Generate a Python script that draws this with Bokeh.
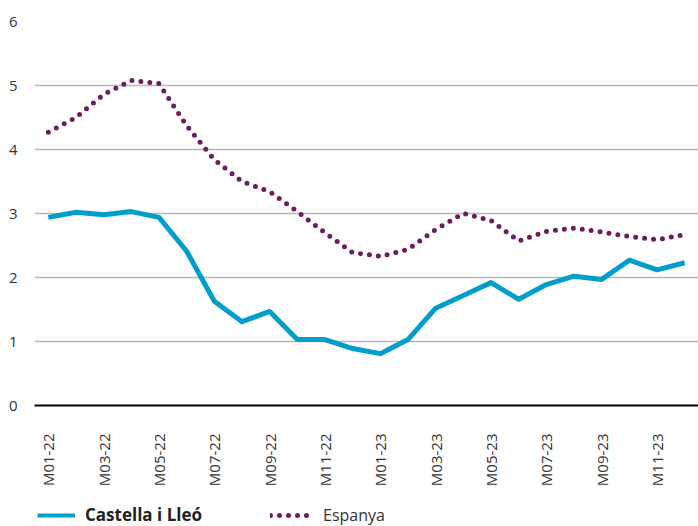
from bokeh.plotting import figure
from bokeh.layouts import column
from bokeh.models import Range1d, FixedTicker, Legend, LegendItem
from bokeh.embed import file_html
from bokeh.resources import INLINE

months = ["M01-22", "M02-22", "M03-22", "M04-22", "M05-22", "M06-22", "M07-22", "M08-22",
          "M09-22", "M10-22", "M11-22", "M12-22", "M01-23", "M02-23", "M03-23", "M04-23",
          "M05-23", "M06-23", "M07-23", "M08-23", "M09-23", "M10-23", "M11-23", "M12-23"]
castella = [2.94, 3.02, 2.98, 3.03, 2.94, 2.41, 1.63, 1.31, 1.47, 1.03, 1.03, 0.89,
            0.81, 1.03, 1.52, 1.72, 1.92, 1.66, 1.89, 2.02, 1.97, 2.27, 2.12, 2.23]
espanya = [4.27, 4.50, 4.86, 5.08, 5.03, 4.37, 3.84, 3.50, 3.34, 3.03, 2.70, 2.39,
           2.33, 2.44, 2.75, 3.00, 2.89, 2.57, 2.72, 2.77, 2.71, 2.64, 2.59, 2.67]
yticks = [0, 1, 2, 3, 4, 5, 6]
series_names = ["Castella i Lleó", "Espanya"]

FONT = "Open Sans"
TXT = "#333333"
CYAN = "#009FCB"
PURPLE = "#6B1D5E"

x = list(range(len(months)))

p = figure(width=698, height=498, output_backend="svg", toolbar_location=None,
           x_range=Range1d(-0.5, len(months) - 0.5), y_range=Range1d(0, 6),
           min_border_left=34, min_border_right=0, min_border_top=21, min_border_bottom=93)
p.outline_line_color = None

p.line(x, castella, line_color=CYAN, line_width=5, line_join="round")
p.line(x, espanya, line_color=PURPLE, line_width=5, line_dash="0 9", line_cap="round")

# axes
p.xaxis.ticker = FixedTicker(ticks=x[::2])
p.xaxis.major_label_overrides = {i: months[i] for i in x[::2]}
p.xaxis.major_label_orientation = 3.14159265 / 2
p.xaxis.major_tick_line_color = None
p.xaxis.minor_tick_line_color = None
p.xaxis.axis_line_color = "#000000"
p.xaxis.axis_line_width = 2
p.xaxis.major_label_standoff = 22
p.xaxis.major_label_text_font = FONT
p.xaxis.major_label_text_font_size = "15px"
p.xaxis.major_label_text_color = TXT

p.yaxis.ticker = FixedTicker(ticks=yticks)
p.yaxis.axis_line_color = None
p.yaxis.major_tick_line_color = None
p.yaxis.minor_tick_line_color = None
p.yaxis.major_label_standoff = 11
p.yaxis.major_label_text_font = FONT
p.yaxis.major_label_text_font_size = "15px"
p.yaxis.major_label_text_color = TXT

p.xgrid.grid_line_color = None
p.ygrid.ticker = FixedTicker(ticks=yticks[1:])
p.ygrid.grid_line_color = "#b8b8b8"
p.ygrid.grid_line_width = 1.5

# legend strip (series drawn out of view; only the legend entries show)
p2 = figure(width=698, height=28, output_backend="svg", toolbar_location=None,
            x_range=Range1d(0, 23), y_range=Range1d(100, 128),
            x_axis_location=None, y_axis_location=None,
            min_border=0, min_border_left=0, min_border_right=0,
            min_border_top=0, min_border_bottom=0)
p2.outline_line_color = None
p2.grid.visible = False
l1 = p2.line(x, castella, line_color=CYAN, line_width=4)
l2 = p2.line(x, espanya, line_color=PURPLE, line_width=5, line_dash="0 9", line_cap="round")

leg1 = Legend(items=[LegendItem(label=series_names[0], renderers=[l1])],
              location=(3, 0), orientation="horizontal",
              glyph_width=38, glyph_height=18, label_height=18, label_standoff=10,
              padding=0, margin=0, border_line_color=None, background_fill_alpha=0,
              label_text_font=FONT, label_text_font_size="17px",
              label_text_font_style="bold", label_text_color="#222222")
leg2 = Legend(items=[LegendItem(label=series_names[1], renderers=[l2])],
              location=(236, 0), orientation="horizontal",
              glyph_width=41, glyph_height=18, label_height=18, label_standoff=12,
              padding=0, margin=0, border_line_color=None, background_fill_alpha=0,
              label_text_font=FONT, label_text_font_size="16px",
              label_text_color=TXT)
p2.add_layout(leg1)
p2.add_layout(leg2)

open("out.html", "w").write(file_html(column(p, p2), INLINE))
